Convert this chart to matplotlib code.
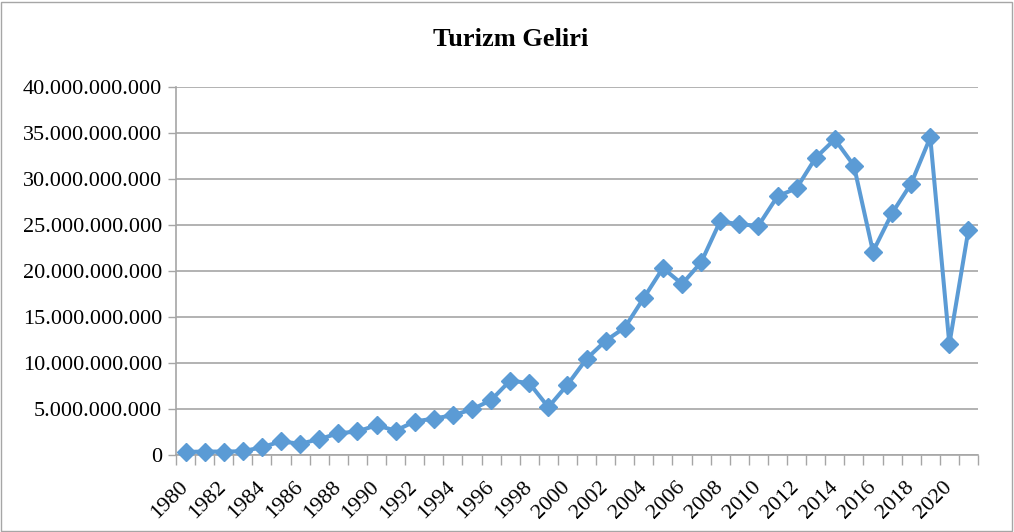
import matplotlib
matplotlib.use("Agg")
import matplotlib.pyplot as plt
from matplotlib.ticker import FuncFormatter, FixedLocator
from matplotlib.patches import Rectangle
from matplotlib.transforms import ScaledTranslation

years = list(range(1980, 2022))
revenue = [0.33, 0.38, 0.37, 0.41, 0.84, 1.48, 1.22, 1.72, 2.36, 2.56,
           3.23, 2.65, 3.64, 3.96, 4.32, 4.96, 5.96, 8.09, 7.81, 5.20,
           7.64, 10.45, 12.42, 13.85, 17.08, 20.32, 18.59, 20.94, 25.42, 25.06,
           24.93, 28.12, 29.00, 32.31, 34.31, 31.46, 22.11, 26.28, 29.51, 34.52,
           12.06, 24.48]
revenue = [v * 1e9 for v in revenue]
title = "Turizm Geliri"

plt.rcParams['font.family'] = ['Liberation Serif', 'DejaVu Serif']

fig = plt.figure(figsize=(10.14, 5.32), dpi=100)
ax = fig.add_axes([176/1014, 1-455/532, (978-176)/1014, (455-87)/532])

x = list(range(len(years)))
ax.plot(x, revenue, color='#5B9BD5', lw=2.9, marker='D', markersize=9.5,
        markeredgecolor='#5B9BD5', markerfacecolor='#5B9BD5', zorder=3, clip_on=False)

ax.set_xlim(-0.5, len(years) - 0.5)
ax.set_ylim(0, 40e9)
ax.yaxis.set_major_locator(FixedLocator([i * 5e9 for i in range(9)]))
ax.yaxis.set_major_formatter(FuncFormatter(lambda v, p: f"{int(round(v)):,}".replace(',', '.')))

ax.set_xticks(x[::2])
ax.set_xticklabels([str(y) for y in years[::2]], rotation=45, ha='right', va='center',
                   rotation_mode='anchor', fontsize=16)
off = ScaledTranslation(4/100, 0, fig.dpi_scale_trans)
for lab in ax.get_xticklabels():
    lab.set_transform(lab.get_transform() + off)
ax.set_xticks([i - 0.5 for i in range(len(years) + 1)], minor=True)
ax.tick_params(axis='x', which='major', length=0, pad=21)
ax.tick_params(axis='x', which='minor', length=7, color='#a6a6a6', width=1)
ax.tick_params(axis='y', which='major', length=6, color='#a6a6a6', width=1, labelsize=16, pad=4)

ax.grid(axis='y', color='#a6a6a6', lw=1.2)
ax.set_axisbelow(True)
for s in ['top', 'right']:
    ax.spines[s].set_visible(False)
for s in ['left', 'bottom']:
    ax.spines[s].set_color('#a6a6a6')
    ax.spines[s].set_linewidth(1.2)

fig.text(511/1014, 1-40/532, title, ha='center', va='center', fontsize=19, fontweight='bold')
fig.patches.append(Rectangle((1/1014, 1/532), 1-3/1014, 1-3/532, transform=fig.transFigure,
                             fill=False, edgecolor='#a6a6a6', lw=1))

fig.savefig('out.png', dpi=100)
